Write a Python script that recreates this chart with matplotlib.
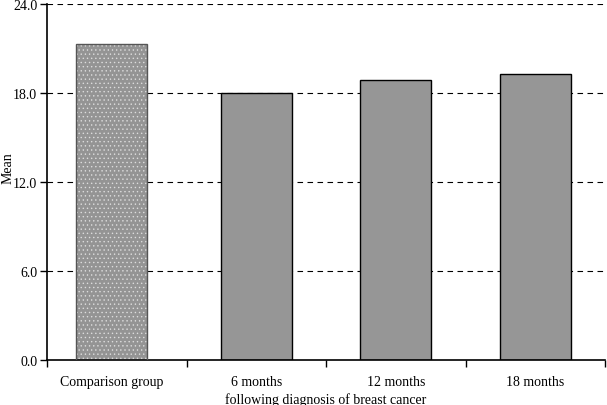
import numpy as np
import matplotlib.pyplot as plt

categories = ["Comparison group", "6 months", "12 months", "18 months"]
means = [21.3, 18.0, 18.9, 19.3]
y_ticks = [0.0, 6.0, 12.0, 18.0, 24.0]

plt.rcParams['font.family'] = ['Liberation Serif', 'DejaVu Serif']

fig = plt.figure(figsize=(6.07, 4.06), dpi=100)
ax = fig.add_axes([47 / 607, 45 / 406, 558 / 607, 356 / 406])

x = np.arange(len(categories), dtype=float)
x[0] -= 0.035  # first bar sits a little left of its slot in the original
w = 0.51
# gridlines behind bars
for t in y_ticks[1:]:
    ax.axhline(t, color='black', linestyle=(0, (5, 4)), linewidth=0.8, zorder=0)

# comparison group: grey with fine white dot pattern
plt.rcParams['hatch.color'] = 'white'
plt.rcParams['hatch.linewidth'] = 0.5
ax.bar(x[0], means[0], width=w, color='#949494', hatch='....', edgecolor='#dcdcdc',
       linewidth=0, zorder=2)
ax.bar(x[0], means[0], width=w, fill=False, edgecolor='#555555', linewidth=1.0, zorder=3)
ax.bar(x[1:], means[1:], width=w, color='#969696', edgecolor='black', linewidth=1.0, zorder=2)

ax.set_xlim(-0.5, len(categories) - 0.5)
ax.set_ylim(0, 24)
ax.set_yticks(y_ticks)
ax.set_yticklabels([f"{t:.1f}" for t in y_ticks], fontsize=10)
ax.set_xticks(x)
ax.set_xticklabels(categories, fontsize=10)
ax.tick_params(axis='x', length=0, pad=11)
ax.set_xticks(np.arange(-0.5, len(categories)), minor=True)
ax.tick_params(axis='x', which='minor', length=5, width=1, direction='out')
ax.tick_params(axis='y', length=5, width=1, direction='out', pad=2)

ax.spines['top'].set_visible(False)
ax.spines['right'].set_visible(False)
ax.spines['left'].set_linewidth(1.2)
ax.spines['bottom'].set_linewidth(1.2)

fig.text(8 / 607, 1 - 168 / 406, "Mean", rotation=90, ha='center', va='center', fontsize=10)
ax.set_xlabel("following diagnosis of breast cancer", fontsize=10, labelpad=3)

fig.savefig("out.png", dpi=100)
